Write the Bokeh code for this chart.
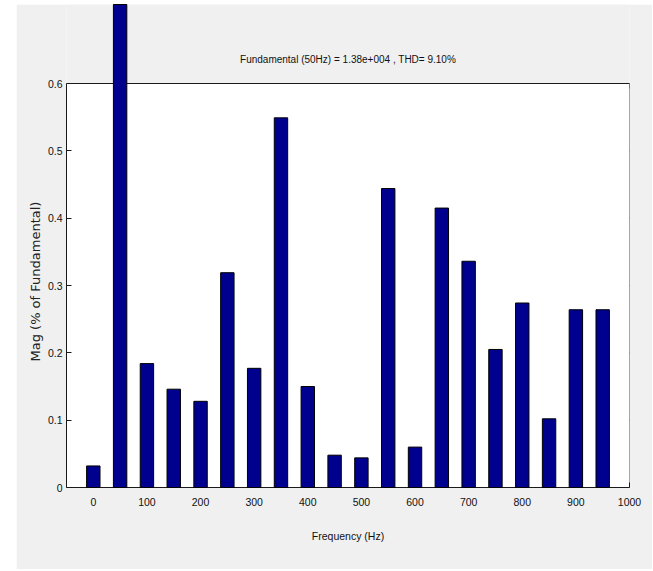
import math
from bokeh.plotting import figure
from bokeh.models import (Range1d, LinearAxis, FixedTicker, Span, BoxAnnotation,
                          Label, Spacer, ColumnDataSource, Title)
from bokeh.layouts import row, column
from bokeh.embed import file_html
from bokeh.resources import INLINE

# ---- data ----
freqs = [0, 50, 100, 150, 200, 250, 300, 350, 400, 450,
         500, 550, 600, 650, 700, 750, 800, 850, 900, 950]
mags = [0.032, 100.0, 0.184, 0.146, 0.128, 0.319, 0.177, 0.549, 0.150, 0.048,
        0.044, 0.444, 0.060, 0.415, 0.336, 0.205, 0.274, 0.102, 0.264, 0.264]
x_ticks = [0, 100, 200, 300, 400, 500, 600, 700, 800, 900, 1000]
y_ticks = [0, 0.1, 0.2, 0.3, 0.4, 0.5, 0.6]
y_tick_labels = ["0", "0.1", "0.2", "0.3", "0.4", "0.5", "0.6"]
title_text = "Fundamental (50Hz) = 1.38e+004 , THD= 9.10%"
x_label = "Frequency (Hz)"
y_label = "Mag (% of Fundamental)"

GRAY = "#f0f0f0"
BAR = "#00008F"
AX = "#1a1a1a"
FONT = "Liberation Sans"

X_START, X_END = -50, 1000
Y_TOP = 0.6
px_per_unit = 404 / Y_TOP          # 0..0.6 spans 404 px
frame_h = 483
frame_w = 563
y_end = frame_h / px_per_unit
px_per_hz = frame_w / (X_END - X_START)

p = figure(width=636, height=565, output_backend="svg", toolbar_location=None,
           x_range=Range1d(X_START, X_END), y_range=Range1d(0, y_end),
           min_border_left=50, min_border_right=23, min_border_top=0,
           min_border_bottom=82, x_axis_location=None, y_axis_location=None)
p.background_fill_color = GRAY
p.border_fill_color = GRAY
p.outline_line_color = None
p.grid.visible = False

# white axes area below the 0.6 line
p.add_layout(BoxAnnotation(bottom=0, top=Y_TOP, fill_color="white", fill_alpha=1,
                           line_alpha=0, level="underlay"))
p.add_layout(Span(location=Y_TOP, dimension="width", line_color=AX,
                  line_width=1, level="underlay"))

def style_axis(ax):
    ax.axis_line_color = AX
    ax.major_tick_line_color = AX
    ax.major_tick_in = 5
    ax.major_tick_out = 0
    ax.minor_tick_line_color = None
    ax.major_label_text_font = FONT
    ax.major_label_text_font_size = "10.5px"
    ax.major_label_text_color = "#111111"
    ax.major_label_standoff = 4

bottom = LinearAxis(ticker=FixedTicker(ticks=x_ticks), axis_label=x_label)
style_axis(bottom)
bottom.major_label_standoff = 10
bottom.axis_label_text_font = FONT
bottom.axis_label_text_font_size = "10.5px"
bottom.axis_label_text_font_style = "normal"
bottom.axis_label_text_color = "#111111"
bottom.axis_label_standoff = 21
p.add_layout(bottom, "below")

left = LinearAxis(ticker=FixedTicker(ticks=y_ticks), bounds=(0, Y_TOP))
style_axis(left)
left.major_label_overrides = {t: s for t, s in zip(y_ticks, y_tick_labels)}
p.add_layout(left, "left")

# y-axis label, placed so that it is centred on the 0..0.6 box
p.add_layout(Title(text=y_label, align="left", offset=126,
                   text_font="DejaVu Sans", text_font_size="13px",
                   text_font_style="normal", text_color="#222222",
                   standoff=4), "left")

# right edge of the axes box with inward ticks
tick_len_y = 5 / px_per_unit
tick_len_x = 5 / px_per_hz
right_src = ColumnDataSource(dict(x0=[X_END] * len(y_ticks), y=y_ticks,
                                  x1=[X_END - tick_len_x] * len(y_ticks)))
p.segment(x0="x0", y0="y", x1="x1", y1="y", source=right_src,
          line_color=AX, line_width=1, level="underlay")
p.segment(x0=[X_END], y0=[0], x1=[X_END], y1=[Y_TOP],
          line_color=AX, line_width=2, level="underlay")

# top tick marks along the 0.6 box edge
top_src = ColumnDataSource(dict(x=x_ticks, y0=[Y_TOP] * len(x_ticks),
                                y1=[Y_TOP - tick_len_y] * len(x_ticks)))
p.segment(x0="x", y0="y0", x1="x", y1="y1", source=top_src,
          line_color=AX, line_width=1, level="underlay")

# bars
src = ColumnDataSource(dict(f=freqs, m=mags))
p.vbar(x="f", top="m", bottom=0, width=25, source=src, fill_color=BAR,
       line_color="#000000", line_width=1, level="overlay")

# title inside the grey area above the axes box
p.add_layout(Label(x=(X_START + X_END) / 2, y=Y_TOP, y_offset=24, text=title_text,
                   text_align="center", text_baseline="middle",
                   text_font=FONT, text_font_size="10px", text_color="#111111"))

layout = column(Spacer(width=652, height=4),
                row(Spacer(width=16, height=565), p))
open("out.html", "w").write(file_html(layout, INLINE))
